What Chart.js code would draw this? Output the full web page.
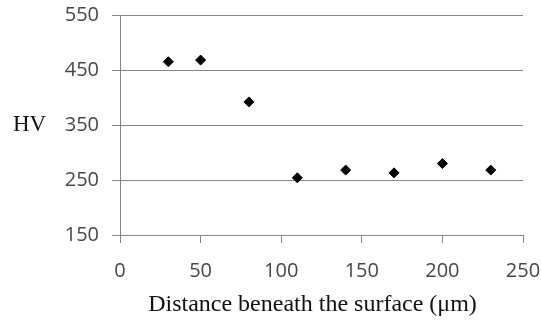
<!DOCTYPE html>
<html>
<head>
<meta charset="utf-8">
<script src="https://cdn.jsdelivr.net/npm/chart.js@4"></script>
<style>
	html, body { margin: 0; padding: 0; background: #fff; }
	#wrap { width: 541px; height: 321px; }
</style>
</head>
<body>
<div id="wrap"><canvas id="hardnessChart" width="541" height="321"></canvas></div>
<script>
// distance beneath the surface (um) and measured hardness (HV)
const distances = [30, 50, 80, 110, 140, 170, 200, 230];
const hardness = [465, 468, 392, 254, 268, 263, 280, 268];
const xTicks = [0, 50, 100, 150, 200, 250];
const yTicks = [150, 250, 350, 450, 550];
const yLabel = 'HV';
const xLabel = 'Distance beneath the surface (\u03bcm)';

const gridColor = '#858585';
const tickColor = '#474747';
const serifFont = '"Liberation Serif", "Times New Roman", serif';

//Axis titles: "HV" sits horizontally beside the 350 tick,
//the x title is a little left of the plot centre as in the original
const axisLabels = {
	id: 'axisLabels',
	afterDraw(chart) {
		const ctx = chart.ctx;
		const y = chart.scales.y.getPixelForValue(350);
		const area = chart.chartArea;
		ctx.save();
		ctx.fillStyle = '#111';
		ctx.textBaseline = 'middle';

		ctx.font = '23px ' + serifFont;
		ctx.textAlign = 'left';
		ctx.fillText(yLabel, 13, y);

		ctx.font = '24px ' + serifFont;
		ctx.textAlign = 'center';
		ctx.fillText(xLabel, (area.left + area.right) / 2 - 9, 305);
		ctx.restore();
	}
};

const points = distances.map(function(d, i) {
	return {x: d, y: hardness[i]};
});

new Chart(document.getElementById('hardnessChart'), {
	type: 'scatter',
	data: {
		datasets: [{
			data: points,
			pointStyle: 'rectRot',
			pointRadius: 5,
			pointBorderWidth: 1,
			backgroundColor: '#000',
			borderColor: '#000'
		}]
	},
	options: {
		responsive: false,
		animation: false,
		layout: {
			padding: {left: 0, right: 18, top: 15, bottom: 0}
		},
		plugins: {
			legend: {display: false},
			tooltip: {enabled: false}
		},
		scales: {
			x: {
				type: 'linear',
				min: 0,
				max: 250,
				afterBuildTicks: function(scale) {
					scale.ticks = xTicks.map(v => ({value: v}));
				},
				afterFit: function(scale) {
					scale.height = 86;
					scale.paddingLeft = 0;
					scale.paddingRight = 0;
				},
				grid: {
					drawOnChartArea: false,
					drawTicks: true,
					tickLength: 8,
					color: gridColor
				},
				border: {color: gridColor, width: 1},
				ticks: {
					color: tickColor,
					padding: 16,
					maxRotation: 0,
					font: {family: '"Open Sans", sans-serif', size: 20}
				}
			},
			y: {
				min: 150,
				max: 550,
				afterBuildTicks: function(scale) {
					scale.ticks = yTicks.map(v => ({value: v}));
				},
				afterFit: function(scale) {
					scale.width = 120;
					scale.paddingTop = 0;
					scale.paddingBottom = 0;
				},
				grid: {
					drawTicks: true,
					tickLength: 8,
					color: gridColor
				},
				border: {color: gridColor, width: 1},
				ticks: {
					color: tickColor,
					padding: 13,
					font: {family: '"Open Sans", sans-serif', size: 20}
				}
			}
		}
	},
	plugins: [axisLabels]
});
</script>
</body>
</html>
